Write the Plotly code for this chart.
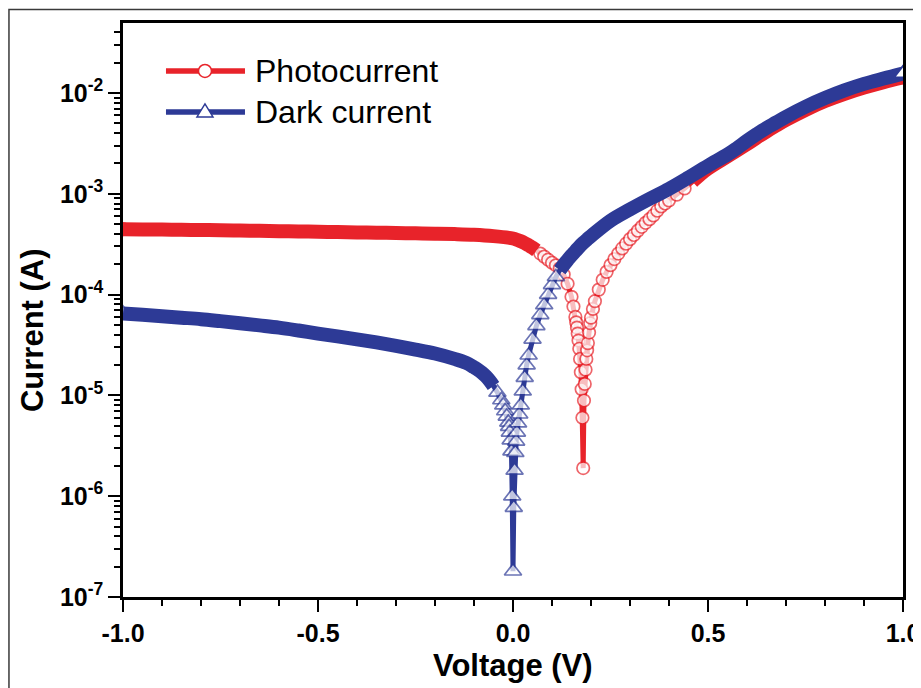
import plotly.graph_objects as go

# ---------------- data ----------------
voltage_photo = [-1.0, -0.95, -0.9, -0.85, -0.8, -0.75, -0.7, -0.65, -0.6, -0.55,
                 -0.5, -0.45, -0.4, -0.35, -0.3, -0.25, -0.2, -0.15, -0.1, -0.05,
                 0.0, 0.01, 0.02, 0.03, 0.04, 0.05, 0.06, 0.07, 0.08, 0.09,
                 0.10, 0.11, 0.12, 0.13, 0.14, 0.15, 0.155,
                 0.16, 0.162, 0.164, 0.166, 0.168, 0.170, 0.172, 0.174, 0.176, 0.178,
                 0.180, 0.182, 0.184, 0.186, 0.188, 0.190, 0.192, 0.195, 0.198,
                 0.20, 0.205, 0.21, 0.22, 0.23, 0.24, 0.25, 0.26, 0.27, 0.28,
                 0.29, 0.30, 0.31, 0.32, 0.33, 0.34, 0.35, 0.36, 0.37, 0.38,
                 0.39, 0.40, 0.42, 0.44, 0.46, 0.48, 0.50, 0.55, 0.60, 0.625,
                 0.65, 0.675, 0.70, 0.75, 0.80, 0.85, 0.90, 0.95, 1.0]
current_photo = [4.45e-4, 4.43e-4, 4.41e-4, 4.39e-4, 4.37e-4, 4.35e-4, 4.32e-4, 4.29e-4, 4.26e-4, 4.23e-4,
                 4.20e-4, 4.17e-4, 4.14e-4, 4.11e-4, 4.08e-4, 4.05e-4, 4.02e-4, 3.98e-4, 3.92e-4, 3.80e-4,
                 3.60e-4, 3.50e-4, 3.38e-4, 3.24e-4, 3.08e-4, 2.92e-4, 2.74e-4, 2.55e-4, 2.38e-4, 2.22e-4,
                 2.07e-4, 1.95e-4, 1.82e-4, 1.58e-4, 1.28e-4, 9.5e-5, 7.6e-5,
                 6.0e-5, 5.3e-5, 4.7e-5, 4.1e-5, 3.5e-5, 2.9e-5, 2.3e-5, 1.7e-5, 1.15e-5, 6.0e-6,
                 1.9e-6, 8.9e-6, 1.3e-5, 1.8e-5, 2.3e-5, 2.8e-5, 3.3e-5, 4.2e-5, 5.2e-5,
                 5.9e-5, 7.2e-5, 8.6e-5, 1.12e-4, 1.40e-4, 1.68e-4, 1.96e-4, 2.25e-4, 2.55e-4, 2.87e-4,
                 3.20e-4, 3.55e-4, 3.90e-4, 4.30e-4, 4.70e-4, 5.15e-4, 5.60e-4, 6.1e-4, 6.8e-4, 7.5e-4,
                 8.0e-4, 8.6e-4, 9.8e-4, 1.13e-3, 1.32e-3, 1.55e-3, 1.78e-3, 2.35e-3, 3.1e-3, 3.6e-3,
                 4.15e-3, 4.75e-3, 5.4e-3, 6.8e-3, 8.3e-3, 9.8e-3, 1.13e-2, 1.28e-2, 1.43e-2]

voltage_dark = [-1.0, -0.95, -0.9, -0.85, -0.8, -0.75, -0.7, -0.65, -0.6, -0.55,
                -0.5, -0.45, -0.4, -0.35, -0.3, -0.25, -0.2, -0.15,
                -0.12, -0.10, -0.09, -0.08, -0.07, -0.06, -0.05, -0.04, -0.03, -0.025,
                -0.02, -0.016, -0.012, -0.010, -0.008, -0.006, -0.004, -0.002, 0.0, 0.002,
                0.004, 0.006, 0.008, 0.010, 0.013, 0.016, 0.02, 0.025, 0.03, 0.035,
                0.04, 0.05, 0.06, 0.07, 0.08, 0.09, 0.10, 0.11, 0.12, 0.13,
                0.14, 0.15, 0.16, 0.17, 0.18, 0.19, 0.20, 0.25, 0.30, 0.35,
                0.40, 0.45, 0.50, 0.55, 0.575, 0.60, 0.625, 0.65, 0.675, 0.70,
                0.75, 0.80, 0.85, 0.90, 0.95, 1.0]
current_dark = [6.5e-5, 6.3e-5, 6.1e-5, 5.9e-5, 5.7e-5, 5.45e-5, 5.2e-5, 4.95e-5, 4.7e-5, 4.4e-5,
                4.1e-5, 3.85e-5, 3.6e-5, 3.35e-5, 3.1e-5, 2.85e-5, 2.6e-5, 2.3e-5,
                2.1e-5, 1.9e-5, 1.8e-5, 1.68e-5, 1.55e-5, 1.4e-5, 1.24e-5, 1.07e-5, 9.0e-6, 8.0e-6,
                7.0e-6, 6.2e-6, 5.4e-6, 4.9e-6, 4.3e-6, 3.6e-6, 2.8e-6, 1.0e-6, 1.8e-7, 7.7e-7,
                1.8e-6, 2.7e-6, 3.5e-6, 4.3e-6, 5.3e-6, 6.5e-6, 8.0e-6, 1.1e-5, 1.5e-5, 2.0e-5,
                2.5e-5, 3.6e-5, 4.9e-5, 6.3e-5, 7.9e-5, 1.0e-4, 1.25e-4, 1.5e-4, 1.75e-4, 1.97e-4,
                2.2e-4, 2.45e-4, 2.7e-4, 2.98e-4, 3.25e-4, 3.52e-4, 3.8e-4, 5.4e-4, 7.0e-4, 8.9e-4,
                1.12e-3, 1.45e-3, 1.9e-3, 2.45e-3, 2.85e-3, 3.35e-3, 3.9e-3, 4.5e-3, 5.1e-3, 5.8e-3,
                7.3e-3, 8.9e-3, 1.06e-2, 1.23e-2, 1.39e-2, 1.56e-2]

series_names = ["Photocurrent", "Dark current"]
x_tick_values = [-1.0, -0.5, 0.0, 0.5, 1.0]
x_tick_labels = ["-1.0", "-0.5", "0.0", "0.5", "1.0"]
y_tick_values = [1e-7, 1e-6, 1e-5, 1e-4, 1e-3, 1e-2]
y_tick_labels = ["10<sup>-7</sup>", "10<sup>-6</sup>", "10<sup>-5</sup>",
                 "10<sup>-4</sup>", "10<sup>-3</sup>", "10<sup>-2</sup>"]
x_title = "Voltage (V)"
y_title = "Current (A)"

assert len(voltage_photo) == len(current_photo)
assert len(voltage_dark) == len(current_dark)

# ---------------- styling ----------------
RED = "#e8232a"
BLUE = "#2d3a96"
FONT = "Liberation Sans, Arial, Helvetica, sans-serif"


def in_band_photo(v):
    return v <= 0.06 or v >= 0.46


def in_band_dark(v):
    return v <= -0.05 or v >= 0.12


# smooth parts of each sweep, where the measured points are so dense that they form a solid band
band_photo = [c if in_band_photo(v) else None for v, c in zip(voltage_photo, current_photo)]
band_dark = [c if in_band_dark(v) else None for v, c in zip(voltage_dark, current_dark)]
size_photo = [0 if in_band_photo(v) else 12.5 for v in voltage_photo]
size_dark = [0 if in_band_dark(v) else 15 for v in voltage_dark]
size_photo[0] = size_photo[-1] = 12.5
size_dark[0] = size_dark[-1] = 15

fig = go.Figure()
fig.add_trace(go.Scatter(
    x=voltage_photo, y=current_photo, mode="lines+markers", name=series_names[0],
    line=dict(color=RED, width=5),
    marker=dict(symbol="circle", size=size_photo, color="white", line=dict(color=RED, width=1.7)),
    showlegend=False))
fig.add_trace(go.Scatter(
    x=voltage_photo, y=band_photo, mode="lines", line=dict(color=RED, width=14, shape="spline", smoothing=1),
    connectgaps=False, showlegend=False, hoverinfo="skip"))
fig.add_trace(go.Scatter(
    x=voltage_dark, y=current_dark, mode="lines+markers", name=series_names[1],
    line=dict(color=BLUE, width=5),
    marker=dict(symbol="triangle-up", size=size_dark, color="white", line=dict(color=BLUE, width=1.7)),
    showlegend=False))
fig.add_trace(go.Scatter(
    x=voltage_dark, y=band_dark, mode="lines", line=dict(color=BLUE, width=14, shape="spline", smoothing=1),
    connectgaps=False, showlegend=False, hoverinfo="skip"))
# last measured point drawn over the band
fig.add_trace(go.Scatter(
    x=[voltage_dark[-1]], y=[current_dark[-1]], mode="markers",
    marker=dict(symbol="triangle-up", size=15, color="white", line=dict(color=BLUE, width=1.7)),
    showlegend=False, hoverinfo="skip"))

minor_y = [m * d for d in y_tick_values for m in range(2, 10)]

fig.update_xaxes(
    range=[-1.0, 1.0], showgrid=False, zeroline=False,
    showline=True, linecolor="black", linewidth=2.5, mirror=True,
    ticks="outside", ticklen=12, tickwidth=2, tickcolor="black",
    tickmode="array", tickvals=x_tick_values, ticktext=x_tick_labels,
    tickfont=dict(family=FONT, size=25, color="black", weight="bold"),
    minor=dict(ticks="outside", ticklen=6, tickwidth=2, tickcolor="black", dtick=0.1, showgrid=False),
)
fig.update_yaxes(
    type="log", range=[-7, -1.306], showgrid=False, zeroline=False,
    showline=True, linecolor="black", linewidth=2.5, mirror=True,
    ticks="outside", ticklen=12, tickwidth=2, tickcolor="black",
    tickmode="array", tickvals=y_tick_values, ticktext=y_tick_labels,
    tickfont=dict(family=FONT, size=25, color="black", weight="bold"),
    minor=dict(ticks="outside", ticklen=6, tickwidth=1.5, tickcolor="black",
               tickvals=minor_y, showgrid=False),
)

# legend (drawn manually to match the long sample lines)
leg_x0, leg_x1, leg_xm, leg_text_x = 0.0551, 0.1564, 0.1051, 0.1667
leg_y = [0.9164, 0.845]
shapes = [
    dict(type="rect", xref="paper", yref="paper", x0=-0.1462, x1=1.2, y0=-0.3, y1=1.0235,
         line=dict(color="#3a3a3a", width=1.5), fillcolor="rgba(0,0,0,0)", layer="above"),
]
for yy, col in zip(leg_y, [RED, BLUE]):
    shapes.append(dict(type="line", xref="paper", yref="paper", x0=leg_x0, x1=leg_x1, y0=yy, y1=yy,
                       line=dict(color=col, width=5.5)))
shapes.append(dict(type="circle", xref="paper", yref="paper", xsizemode="pixel", ysizemode="pixel",
                   xanchor=leg_xm, yanchor=leg_y[0], x0=-6.5, x1=6.5, y0=-6.5, y1=6.5,
                   fillcolor="white", line=dict(color=RED, width=1.5)))
shapes.append(dict(type="path", xref="paper", yref="paper", xsizemode="pixel", ysizemode="pixel",
                   xanchor=leg_xm, yanchor=leg_y[1], path="M -8,-5 L 8,-5 L 0,8 Z",
                   fillcolor="white", line=dict(color=BLUE, width=1.5)))

annotations = []
for yy, name in zip(leg_y, series_names):
    annotations.append(dict(xref="paper", yref="paper", x=leg_text_x, y=yy, text=name,
                            showarrow=False, xanchor="left", yanchor="middle",
                            font=dict(family=FONT, size=32, color="black")))
annotations.append(dict(xref="paper", yref="paper", x=0.5, y=-0.1185, text=x_title,
                        showarrow=False, xanchor="center", yanchor="middle",
                        font=dict(family=FONT, size=31, color="black", weight="bold")))
annotations.append(dict(xref="paper", yref="paper", x=-0.1167, y=0.465, text=y_title,
                        textangle=-90, showarrow=False, xanchor="center", yanchor="middle",
                        font=dict(family=FONT, size=31, color="black", weight="bold")))

# the page adds an 8 px body margin, so the figure is 8 px smaller and the margins shifted
fig.update_layout(
    width=913, height=680,
    margin=dict(l=115, r=18, t=15, b=91, autoexpand=False),
    paper_bgcolor="white", plot_bgcolor="white",
    shapes=shapes, annotations=annotations, showlegend=False,
)

fig.write_html("out.html")
